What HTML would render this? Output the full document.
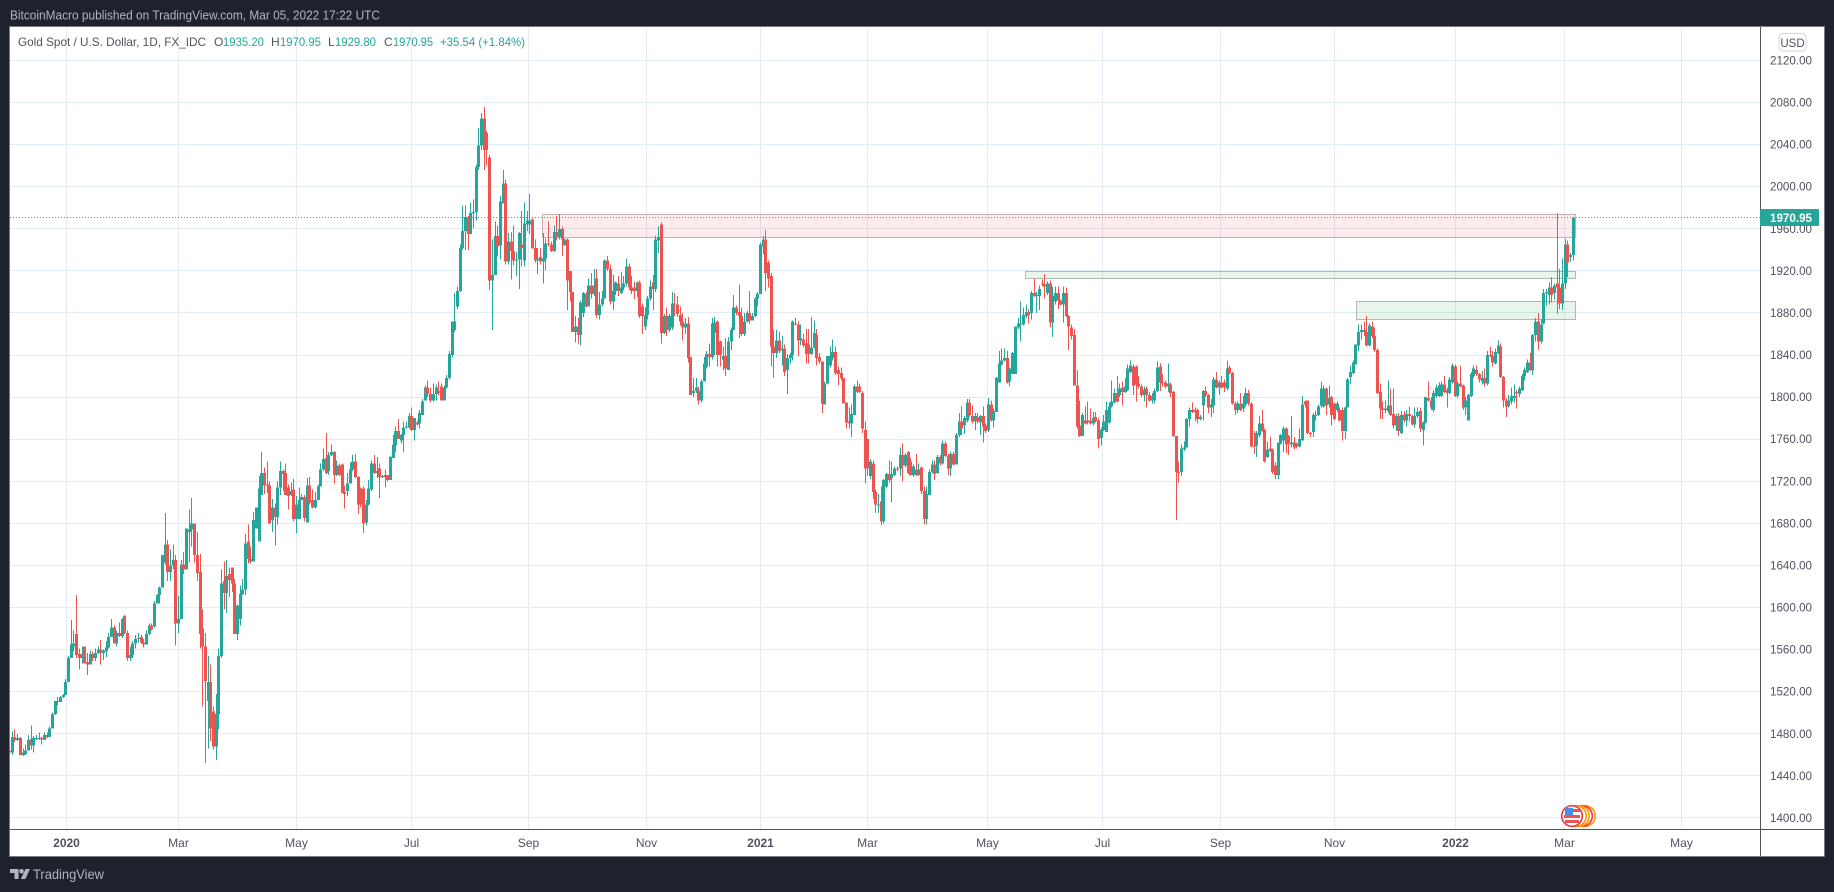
<!DOCTYPE html>
<html lang="en">
<head>
<meta charset="utf-8">
<title>Gold Spot / U.S. Dollar chart</title>
<style>
html,body{margin:0;padding:0;background:#1e222d;width:1834px;height:892px;overflow:hidden}
svg{display:block;font-family:"Liberation Sans",sans-serif}
</style>
</head>
<body>
<svg id="chart" xmlns="http://www.w3.org/2000/svg" width="1834" height="892" viewBox="0 0 1834 892">
  <defs><clipPath id="plot-clip"><rect x="10" y="27" width="1750" height="802"/></clipPath></defs>
  <rect x="0" y="0" width="1834" height="892" fill="#1e222d"/>
  <text x="10" y="19.5" font-size="12.5" fill="#b2b5be" textLength="370" lengthAdjust="spacingAndGlyphs">BitcoinMacro published on TradingView.com, Mar 05, 2022 17:22 UTC</text>
  <rect x="9.5" y="26.5" width="1815" height="830" fill="#ffffff" stroke="#787b86"/>
  <g id="grid" clip-path="url(#plot-clip)"></g>
  <g id="zones" clip-path="url(#plot-clip)"></g>
  <g id="candles" clip-path="url(#plot-clip)" shape-rendering="crispEdges"></g>
  <g id="last-line"></g>
  <g>
    <circle cx="1585" cy="816" r="10.3" fill="#fff" stroke="#ff9800" stroke-width="1.6"/>
    <circle cx="1582" cy="816" r="10.3" fill="#fff" stroke="#f23645" stroke-width="1.6"/>
    <circle cx="1579" cy="816" r="10.3" fill="#fff" stroke="#ff9800" stroke-width="1.6"/>
    <circle cx="1576" cy="816" r="10.3" fill="#fff" stroke="#ff9800" stroke-width="1.6"/>
    <circle cx="1572" cy="816" r="10.3" fill="#fff" stroke="#f23645" stroke-width="1.6"/>
    <rect x="1565" y="809" width="15" height="3" fill="#ef5350"/>
    <rect x="1564" y="815" width="16" height="3" fill="#ef5350"/>
    <rect x="1565" y="820" width="14" height="3" fill="#ef5350"/>
    <rect x="1565" y="808" width="8" height="7" fill="#4a90e2"/>
  </g>
  <line x1="1760.5" y1="27" x2="1760.5" y2="856" stroke="#50535e"/>
  <line x1="10" y1="829.5" x2="1824" y2="829.5" stroke="#50535e"/>
  <g id="y-axis"></g>
  <g id="x-axis"></g>
  <g>
    <rect x="1779" y="33.5" width="27" height="17.5" rx="4" fill="#fff" stroke="#d1d4dc"/>
    <text x="1792.5" y="47" font-size="11.5" fill="#50535e" text-anchor="middle">USD</text>
  </g>
  <g font-size="12">
    <text x="18" y="46" fill="#50535e" textLength="188" lengthAdjust="spacingAndGlyphs">Gold Spot / U.S. Dollar, 1D, FX_IDC</text>
    <text x="214" y="46" fill="#50535e">O</text>
    <text x="223" y="46" fill="#26a69a" textLength="41" lengthAdjust="spacingAndGlyphs">1935.20</text>
    <text x="271" y="46" fill="#50535e">H</text>
    <text x="280" y="46" fill="#26a69a" textLength="41" lengthAdjust="spacingAndGlyphs">1970.95</text>
    <text x="328" y="46" fill="#50535e">L</text>
    <text x="335" y="46" fill="#26a69a" textLength="41" lengthAdjust="spacingAndGlyphs">1929.80</text>
    <text x="384" y="46" fill="#50535e">C</text>
    <text x="393" y="46" fill="#26a69a" textLength="40" lengthAdjust="spacingAndGlyphs">1970.95</text>
    <text x="440" y="46" fill="#26a69a" textLength="85" lengthAdjust="spacingAndGlyphs">+35.54 (+1.84%)</text>
  </g>
  <g fill="#b2b5be">
    <path d="M10 869h8.5v10h-4v-6H10z"/>
    <circle cx="21.5" cy="871.3" r="2.3"/>
    <path d="M25.5 869H30l-4.6 10h-4.6z"/>
    <text x="33" y="879" font-size="14" textLength="71" lengthAdjust="spacingAndGlyphs">TradingView</text>
  </g>
</svg>
<script>
const priceTicks = [2120,2080,2040,2000,1960,1920,1880,1840,1800,1760,1720,1680,1640,1600,1560,1520,1480,1440,1400];
const timeLabels = ["2020","Mar","May","Jul","Sep","Nov","2021","Mar","May","Jul","Sep","Nov","2022","Mar","May"];
const timeTickBars = [21.4,63.2,107.2,150,193.6,237.6,280.2,320,364.8,407.6,451.6,494.1,539.2,579.9,623.4];
const lastPrice = 1970.95;
const zoneTops = [1974,1920,1891];
const zoneBottoms = [1952,1913,1874];
const zoneStartBars = [198.8,378.9,502.3];
const zoneEndBar = 584.1;
const zoneKinds = ["resistance","support","support"];

const opens = [
1464,1462,1477,1474,1476,1460,1461,1464,1475,1469,
1475,1475,1476,1474,1479,1477,1485,1499,1511,1510,
1515,1517,1529,1552,1563,1575,1556,1552,1563,1548,
1546,1556,1552,1557,1560,1557,1558,1562,1572,1581,
1566,1576,1573,1592,1576,1552,1555,1566,1570,1572,
1567,1565,1575,1583,1582,1604,1612,1619,1643,1660,
1634,1640,1645,1585,1589,1641,1636,1672,1674,1680,
1650,1634,1580,1563,1511,1529,1501,1468,1499,1554,
1625,1614,1632,1638,1623,1575,1589,1613,1617,1663,
1646,1644,1675,1663,1707,1728,1717,1716,1683,1695,
1686,1714,1730,1728,1714,1707,1712,1684,1684,1702,
1705,1681,1716,1702,1695,1702,1715,1731,1742,1730,
1745,1748,1726,1735,1736,1710,1711,1718,1731,1739,
1724,1713,1713,1681,1698,1712,1737,1728,1732,1724,
1726,1726,1721,1742,1754,1768,1759,1764,1771,1771,
1782,1769,1776,1775,1783,1797,1809,1803,1797,1803,
1806,1810,1797,1809,1818,1840,1864,1886,1901,1942,
1958,1971,1955,1975,1976,2019,2039,2065,2051,2028,
1911,1916,1953,1944,1984,2003,1929,1948,1939,1930,
1931,1945,1930,1964,1964,1969,1942,1930,1933,1929,
1932,1946,1945,1939,1957,1952,1960,1944,1950,1920,
1900,1862,1867,1859,1880,1898,1886,1906,1898,1913,
1878,1888,1894,1930,1922,1891,1901,1908,1899,1904,
1908,1924,1904,1904,1901,1909,1886,1867,1878,1894,
1909,1903,1949,1964,1861,1877,1864,1866,1889,1888,
1878,1872,1866,1870,1838,1804,1806,1806,1797,1815,
1829,1841,1838,1861,1872,1853,1836,1839,1826,1853,
1864,1885,1881,1877,1860,1872,1880,1873,1877,1894,
1898,1943,1950,1928,1915,1848,1842,1854,1845,1846,
1826,1837,1840,1870,1869,1854,1855,1851,1850,1841,
1847,1859,1838,1834,1793,1813,1830,1837,1843,1826,
1823,1818,1795,1777,1775,1783,1810,1810,1804,1769,
1760,1725,1737,1710,1697,1701,1682,1715,1727,1723,
1726,1732,1732,1745,1735,1748,1739,1726,1731,1726,
1733,1711,1684,1707,1729,1736,1728,1743,1737,1756,
1744,1732,1746,1736,1764,1777,1773,1778,1795,1782,
1777,1781,1776,1782,1773,1769,1793,1778,1786,1814,
1831,1835,1837,1815,1822,1822,1866,1869,1869,1877,
1881,1880,1899,1896,1896,1908,1907,1899,1908,1871,
1891,1899,1892,1888,1899,1877,1866,1859,1811,1773,
1763,1778,1778,1778,1775,1781,1778,1761,1769,1767,
1776,1791,1795,1804,1802,1809,1805,1807,1824,1829,
1829,1813,1810,1802,1808,1802,1797,1797,1806,1829,
1814,1814,1810,1812,1805,1763,1729,1729,1750,1752,
1779,1788,1788,1788,1779,1792,1806,1802,1790,1792,
1817,1809,1814,1814,1808,1828,1823,1794,1788,1794,
1789,1793,1804,1794,1754,1754,1764,1775,1769,1743,
1751,1750,1735,1726,1756,1759,1770,1763,1755,1757,
1756,1753,1759,1796,1797,1766,1767,1782,1783,1792,
1791,1808,1793,1800,1794,1788,1788,1788,1768,1790,
1819,1823,1831,1849,1862,1864,1862,1849,1867,1858,
1845,1805,1789,1788,1787,1792,1784,1773,1782,1766,
1783,1778,1784,1782,1774,1782,1787,1769,1776,1799,
1797,1788,1801,1801,1801,1812,1807,1804,1814,1829,
1801,1813,1811,1790,1778,1801,1820,1826,1822,1815,
1818,1813,1840,1839,1832,1842,1848,1819,1797,1791,
1796,1799,1805,1803,1807,1820,1824,1833,1826,1859,
1872,1853,1870,1899,1897,1904,1899,1908,1904,1889,
1908,1945,1933,1935.2];

const closes = [
1462,1477,1474,1476,1460,1462,1464,1474,1469,1476,
1476,1476,1475,1479,1477,1485,1499,1511,1510,1515,
1517,1529,1552,1565,1566,1555,1552,1556,1547,1546,
1556,1552,1557,1560,1557,1559,1562,1572,1581,1566,
1576,1573,1589,1576,1552,1555,1566,1570,1571,1567,
1565,1575,1583,1579,1604,1612,1619,1650,1660,1634,
1640,1645,1585,1589,1641,1636,1675,1674,1680,1650,
1633,1575,1563,1530,1529,1485,1468,1499,1554,1623,
1614,1630,1626,1623,1575,1602,1613,1617,1661,1646,
1644,1683,1695,1713,1728,1716,1716,1680,1695,1686,
1714,1730,1727,1707,1706,1711,1684,1698,1702,1705,
1685,1716,1700,1695,1702,1715,1731,1741,1728,1745,
1748,1726,1735,1726,1709,1708,1718,1731,1739,1724,
1698,1698,1680,1698,1713,1737,1728,1730,1724,1725,
1724,1721,1743,1755,1768,1760,1764,1771,1772,1782,
1769,1780,1774,1785,1796,1809,1803,1797,1803,1809,
1804,1797,1809,1818,1841,1872,1872,1901,1942,1958,
1971,1955,1975,1976,2019,2039,2065,2035,2035,1911,
1916,1953,1943,1986,2003,1929,1948,1939,1930,1931,
1956,1942,1965,1968,1968,1942,1930,1932,1929,1932,
1946,1945,1939,1957,1952,1960,1950,1950,1911,1900,
1862,1867,1859,1890,1899,1886,1906,1898,1906,1878,
1888,1894,1930,1922,1891,1901,1909,1901,1904,1908,
1924,1904,1901,1901,1909,1877,1877,1878,1894,1905,
1903,1950,1952,1861,1877,1864,1877,1889,1888,1879,
1872,1866,1870,1837,1802,1806,1809,1797,1815,1832,
1841,1838,1870,1871,1840,1840,1839,1827,1853,1864,
1885,1880,1877,1860,1872,1880,1873,1877,1894,1898,
1945,1950,1918,1913,1848,1842,1854,1844,1846,1824,
1837,1840,1872,1869,1854,1856,1849,1841,1841,1847,
1861,1837,1834,1794,1813,1839,1839,1843,1823,1822,
1818,1794,1776,1775,1784,1810,1805,1805,1770,1732,
1732,1739,1710,1698,1698,1682,1721,1727,1721,1727,
1732,1731,1745,1735,1745,1728,1726,1734,1726,1731,
1711,1684,1708,1729,1736,1727,1743,1737,1756,1744,
1732,1746,1736,1764,1777,1770,1780,1795,1783,1777,
1782,1777,1782,1772,1768,1793,1778,1787,1818,1832,
1835,1837,1814,1827,1842,1867,1870,1870,1878,1881,
1878,1899,1896,1897,1903,1907,1905,1908,1871,1896,
1899,1892,1888,1899,1877,1867,1858,1811,1772,1763,
1783,1775,1776,1775,1780,1777,1760,1769,1777,1788,
1791,1796,1804,1796,1808,1805,1810,1827,1830,1811,
1812,1810,1802,1807,1802,1797,1801,1806,1828,1814,
1813,1810,1813,1804,1763,1729,1728,1751,1752,1779,
1788,1786,1786,1779,1781,1806,1802,1790,1793,1817,
1809,1814,1809,1809,1827,1823,1794,1788,1794,1788,
1794,1804,1794,1753,1753,1766,1775,1768,1739,1750,
1749,1729,1726,1757,1764,1770,1755,1756,1757,1752,
1753,1760,1793,1793,1766,1765,1783,1783,1791,1808,
1808,1792,1799,1783,1779,1794,1778,1768,1790,1817,
1824,1833,1850,1862,1864,1862,1849,1868,1858,1845,
1804,1789,1788,1789,1792,1783,1773,1782,1768,1783,
1778,1784,1782,1774,1782,1786,1770,1776,1800,1797,
1790,1804,1809,1811,1812,1805,1804,1817,1830,1801,
1813,1810,1790,1797,1802,1822,1827,1822,1817,1818,
1813,1840,1839,1833,1843,1849,1819,1797,1791,1797,
1801,1801,1804,1808,1820,1826,1833,1826,1859,1872,
1853,1869,1899,1900,1904,1897,1906,1904,1889,1908,
1945,1928,1935,1970.95];

const highs = [
1466,1482,1484,1480,1477,1466,1470,1479,1488,1478,
1479,1481,1477,1481,1481,1487,1500,1511,1515,1516,
1518,1532,1554,1588,1578,1612,1561,1563,1563,1557,
1559,1558,1561,1563,1569,1560,1568,1576,1589,1583,
1578,1586,1590,1593,1578,1563,1568,1574,1576,1574,
1570,1578,1585,1585,1606,1613,1620,1650,1690,1664,
1655,1660,1650,1611,1645,1653,1675,1693,1704,1680,
1672,1651,1598,1576,1554,1546,1506,1518,1561,1636,
1644,1645,1638,1638,1627,1603,1621,1627,1670,1679,
1658,1691,1695,1725,1748,1733,1739,1720,1703,1699,
1720,1739,1731,1737,1717,1719,1722,1706,1714,1708,
1707,1723,1724,1712,1710,1717,1737,1751,1766,1748,
1755,1749,1740,1737,1737,1716,1728,1738,1745,1746,
1725,1714,1715,1702,1721,1740,1745,1743,1737,1726,
1731,1726,1744,1764,1772,1779,1765,1777,1777,1785,
1790,1780,1778,1788,1798,1811,1816,1809,1813,1812,
1815,1813,1811,1821,1844,1872,1899,1905,1945,1982,
1982,1972,1985,1988,2021,2056,2070,2076,2053,2030,
1950,1967,1963,1991,2016,2007,1956,1957,1963,1938,
1957,1977,1985,1977,1993,1970,1950,1942,1942,1956,
1951,1967,1948,1963,1972,1974,1962,1951,1951,1920,
1900,1877,1875,1892,1900,1900,1913,1918,1922,1922,
1900,1901,1931,1934,1926,1916,1910,1915,1919,1915,
1932,1927,1915,1910,1910,1911,1889,1885,1896,1911,
1916,1953,1962,1966,1879,1885,1879,1900,1899,1896,
1886,1880,1875,1876,1838,1818,1818,1810,1817,1838,
1844,1851,1875,1876,1873,1854,1848,1856,1857,1866,
1897,1887,1907,1885,1880,1882,1901,1880,1895,1900,
1947,1953,1959,1930,1918,1864,1864,1862,1858,1850,
1841,1842,1873,1875,1872,1869,1860,1865,1865,1876,
1873,1865,1842,1834,1815,1839,1848,1855,1848,1829,
1828,1818,1795,1790,1793,1812,1816,1813,1806,1777,
1760,1741,1740,1712,1708,1715,1722,1728,1740,1739,
1734,1734,1752,1756,1747,1749,1742,1736,1746,1737,
1734,1715,1715,1731,1740,1740,1745,1745,1759,1758,
1746,1748,1748,1766,1785,1791,1782,1798,1798,1792,
1785,1785,1783,1791,1775,1799,1797,1789,1819,1844,
1846,1846,1844,1828,1843,1867,1875,1891,1885,1888,
1884,1901,1913,1900,1906,1912,1917,1910,1911,1905,
1905,1905,1893,1905,1904,1878,1869,1865,1826,1797,
1785,1791,1796,1789,1786,1786,1780,1771,1783,1796,
1795,1816,1808,1820,1813,1815,1818,1831,1835,1831,
1830,1820,1812,1810,1810,1805,1804,1808,1834,1832,
1822,1816,1832,1814,1806,1763,1739,1755,1758,1780,
1790,1795,1790,1789,1783,1807,1810,1803,1798,1819,
1824,1816,1820,1817,1835,1830,1824,1796,1796,1804,
1801,1809,1807,1795,1768,1768,1782,1788,1770,1758,
1762,1751,1738,1757,1765,1772,1771,1764,1782,1762,
1757,1770,1801,1797,1797,1767,1785,1787,1793,1815,
1811,1809,1811,1801,1795,1796,1790,1790,1791,1818,
1830,1835,1850,1869,1869,1872,1877,1870,1872,1866,
1846,1813,1796,1797,1816,1808,1808,1784,1785,1787,
1787,1788,1791,1783,1790,1790,1790,1777,1800,1815,
1800,1807,1812,1814,1815,1820,1809,1819,1832,1831,
1815,1830,1812,1800,1803,1824,1830,1830,1823,1825,
1827,1844,1848,1844,1846,1854,1851,1820,1799,1802,
1809,1812,1807,1810,1822,1828,1836,1842,1860,1875,
1880,1874,1903,1903,1909,1914,1908,1975,1922,1932,
1951,1949,1937,1970.95];

const lows = [
1455,1460,1472,1473,1460,1459,1460,1464,1465,1462,
1474,1474,1470,1474,1476,1477,1485,1498,1507,1510,
1514,1517,1529,1552,1558,1552,1541,1547,1547,1536,
1546,1549,1549,1556,1546,1550,1553,1561,1572,1566,
1563,1572,1571,1575,1549,1549,1552,1561,1567,1566,
1562,1565,1574,1578,1581,1604,1604,1619,1641,1625,
1625,1636,1564,1576,1589,1632,1636,1643,1658,1643,
1625,1561,1506,1452,1466,1473,1465,1455,1484,1552,
1598,1595,1610,1615,1575,1569,1583,1612,1612,1642,
1642,1644,1675,1663,1707,1708,1709,1680,1672,1659,
1679,1707,1711,1707,1693,1706,1682,1671,1684,1702,
1682,1681,1698,1694,1694,1702,1715,1730,1727,1726,
1744,1718,1725,1725,1709,1694,1706,1718,1730,1723,
1689,1695,1671,1678,1697,1711,1727,1723,1704,1723,
1714,1720,1721,1742,1748,1760,1756,1748,1770,1770,
1768,1759,1773,1770,1783,1797,1800,1795,1796,1797,
1802,1797,1797,1808,1817,1838,1862,1884,1900,1940,
1940,1940,1955,1961,1968,2016,2035,2016,2020,1902,
1864,1916,1934,1931,1984,1926,1926,1912,1925,1915,
1903,1924,1924,1958,1955,1941,1928,1917,1926,1908,
1921,1943,1938,1938,1949,1950,1934,1944,1883,1891,
1862,1852,1851,1849,1876,1885,1886,1894,1896,1875,
1874,1886,1894,1920,1888,1883,1897,1896,1898,1902,
1905,1902,1898,1893,1895,1875,1860,1864,1874,1892,
1883,1900,1937,1851,1860,1858,1862,1864,1877,1876,
1868,1854,1860,1833,1802,1800,1804,1793,1795,1815,
1827,1829,1836,1840,1829,1829,1826,1820,1826,1845,
1864,1878,1856,1858,1858,1871,1870,1873,1876,1886,
1898,1936,1901,1904,1829,1818,1837,1842,1830,1820,
1803,1832,1835,1868,1839,1849,1847,1832,1832,1840,
1846,1830,1832,1785,1793,1812,1828,1835,1821,1811,
1816,1794,1770,1770,1762,1783,1804,1804,1766,1718,
1725,1722,1703,1690,1690,1678,1680,1713,1719,1700,
1725,1730,1725,1720,1733,1727,1725,1724,1725,1725,
1708,1679,1679,1707,1728,1721,1727,1735,1736,1743,
1726,1725,1735,1736,1762,1764,1765,1776,1781,1775,
1769,1775,1764,1757,1766,1767,1777,1771,1786,1814,
1830,1834,1813,1810,1822,1822,1865,1853,1868,1875,
1870,1874,1895,1880,1883,1905,1894,1897,1866,1857,
1888,1884,1887,1871,1876,1845,1855,1811,1770,1762,
1763,1774,1774,1774,1773,1776,1751,1754,1768,1767,
1775,1790,1794,1795,1800,1792,1804,1806,1823,1802,
1796,1808,1800,1796,1790,1796,1794,1794,1805,1806,
1810,1808,1805,1800,1762,1683,1719,1725,1749,1752,
1772,1785,1777,1775,1778,1778,1800,1785,1781,1785,
1808,1802,1808,1805,1807,1822,1793,1783,1785,1787,
1786,1791,1792,1752,1746,1743,1762,1767,1738,1742,
1748,1727,1722,1722,1755,1748,1747,1745,1752,1750,
1751,1752,1759,1790,1765,1762,1762,1778,1782,1790,
1790,1783,1790,1773,1778,1786,1777,1759,1760,1790,
1812,1822,1831,1844,1855,1858,1848,1848,1856,1843,
1803,1779,1779,1785,1785,1782,1770,1768,1763,1765,
1776,1772,1777,1773,1771,1780,1767,1754,1775,1796,
1788,1786,1799,1800,1800,1804,1790,1803,1813,1800,
1799,1809,1788,1783,1778,1800,1818,1820,1814,1812,
1810,1811,1838,1829,1831,1841,1818,1790,1781,1790,
1793,1795,1789,1800,1806,1816,1823,1825,1821,1853,
1845,1851,1869,1887,1888,1890,1893,1879,1884,1883,
1903,1914,1929,1929.8];

const SVG_NS = "http://www.w3.org/2000/svg";
const UP = "#26a69a", DOWN = "#ef5350";
const lastBar = closes.length - 1;
function xOf(bar) { return 1572.7 - (lastBar - bar) * 2.682; }
function yOf(price) { return 60.5 + (2120 - price) * 1.052; }
function mk(tag, attrs, parent) {
  const el = document.createElementNS(SVG_NS, tag);
  for (const k in attrs) el.setAttribute(k, attrs[k]);
  parent.appendChild(el);
  return el;
}
const grid = document.getElementById("grid");
const yAxis = document.getElementById("y-axis");
const xAxis = document.getElementById("x-axis");
const candlesG = document.getElementById("candles");
const zonesG = document.getElementById("zones");
const lastG = document.getElementById("last-line");

priceTicks.forEach(function (p) {
  const y = Math.round(yOf(p) - 0.5) + 0.5;
  const line = mk("line", {x1: 10, x2: 1760, y1: y, y2: y, stroke: "#e2ecf3"}, grid);
  
  
  const t = mk("text", {x: 1770, y: yOf(p) + 4, "font-size": 12, fill: "#50535e", textLength: 42, lengthAdjust: "spacingAndGlyphs"}, yAxis);
  
  
  t.textContent = p.toFixed(2);
});

timeTickBars.forEach(function (b, k) {
  const x = Math.round(xOf(b) - 0.5) + 0.5;
  const line = mk("line", {x1: x, x2: x, y1: 27, y2: 829, stroke: "#e2ecf3"}, grid);
  
  
  const isYear = /^\d/.test(timeLabels[k]);
  const t = mk("text", {x: x, y: 847, "font-size": 12, "text-anchor": "middle", fill: "#50535e", "font-weight": isYear ? "bold" : "normal"}, xAxis);
  
  
  t.textContent = timeLabels[k];
});

zoneTops.forEach(function (top, k) {
  const x0 = xOf(zoneStartBars[k]), x1 = xOf(zoneEndBar);
  const red = zoneKinds[k] === "resistance";
  const r = mk("rect", {
    x: Math.round(x0) + 0.5, y: Math.round(yOf(top)) + 0.5,
    width: Math.round(x1 - x0), height: Math.round(yOf(zoneBottoms[k]) - yOf(top)),
    fill: red ? "rgba(242,54,69,0.1)" : "rgba(76,175,80,0.12)",
    stroke: red ? "rgba(120,80,88,0.42)" : "rgba(90,110,90,0.45)", "stroke-width": 1
  }, zonesG);
  
  
});

closes.forEach(function (c, i) {
  const o = opens[i], h = highs[i], l = lows[i];
  const color = c >= o ? UP : DOWN;
  const cx = Math.round(xOf(i));
  const wick = mk("rect", {x: cx, width: 1, y: yOf(h), height: Math.max(1, yOf(l) - yOf(h)), fill: color}, candlesG);
  
  
  const top = yOf(Math.max(o, c)), bottom = yOf(Math.min(o, c));
  const body = mk("rect", {x: cx - 1, width: 3, y: top, height: Math.max(1, bottom - top), fill: color}, candlesG);
  
  
});

const lastY = Math.round(yOf(lastPrice)) + 0.5;
const dotted = mk("line", {x1: 10, x2: 1760, y1: lastY, y2: lastY, stroke: UP, "stroke-dasharray": "1 2"}, lastG);


const tag = mk("rect", {x: 1760, y: lastY - 8.5, width: 59, height: 17, rx: 1, fill: UP}, lastG);


const tagText = mk("text", {x: 1770, y: lastY + 4.5, "font-size": 12, "font-weight": "bold", fill: "#ffffff", textLength: 42, lengthAdjust: "spacingAndGlyphs"}, lastG);


tagText.textContent = lastPrice.toFixed(2);
document.getElementById("chart").appendChild(lastG);
</script>
</body>
</html>
